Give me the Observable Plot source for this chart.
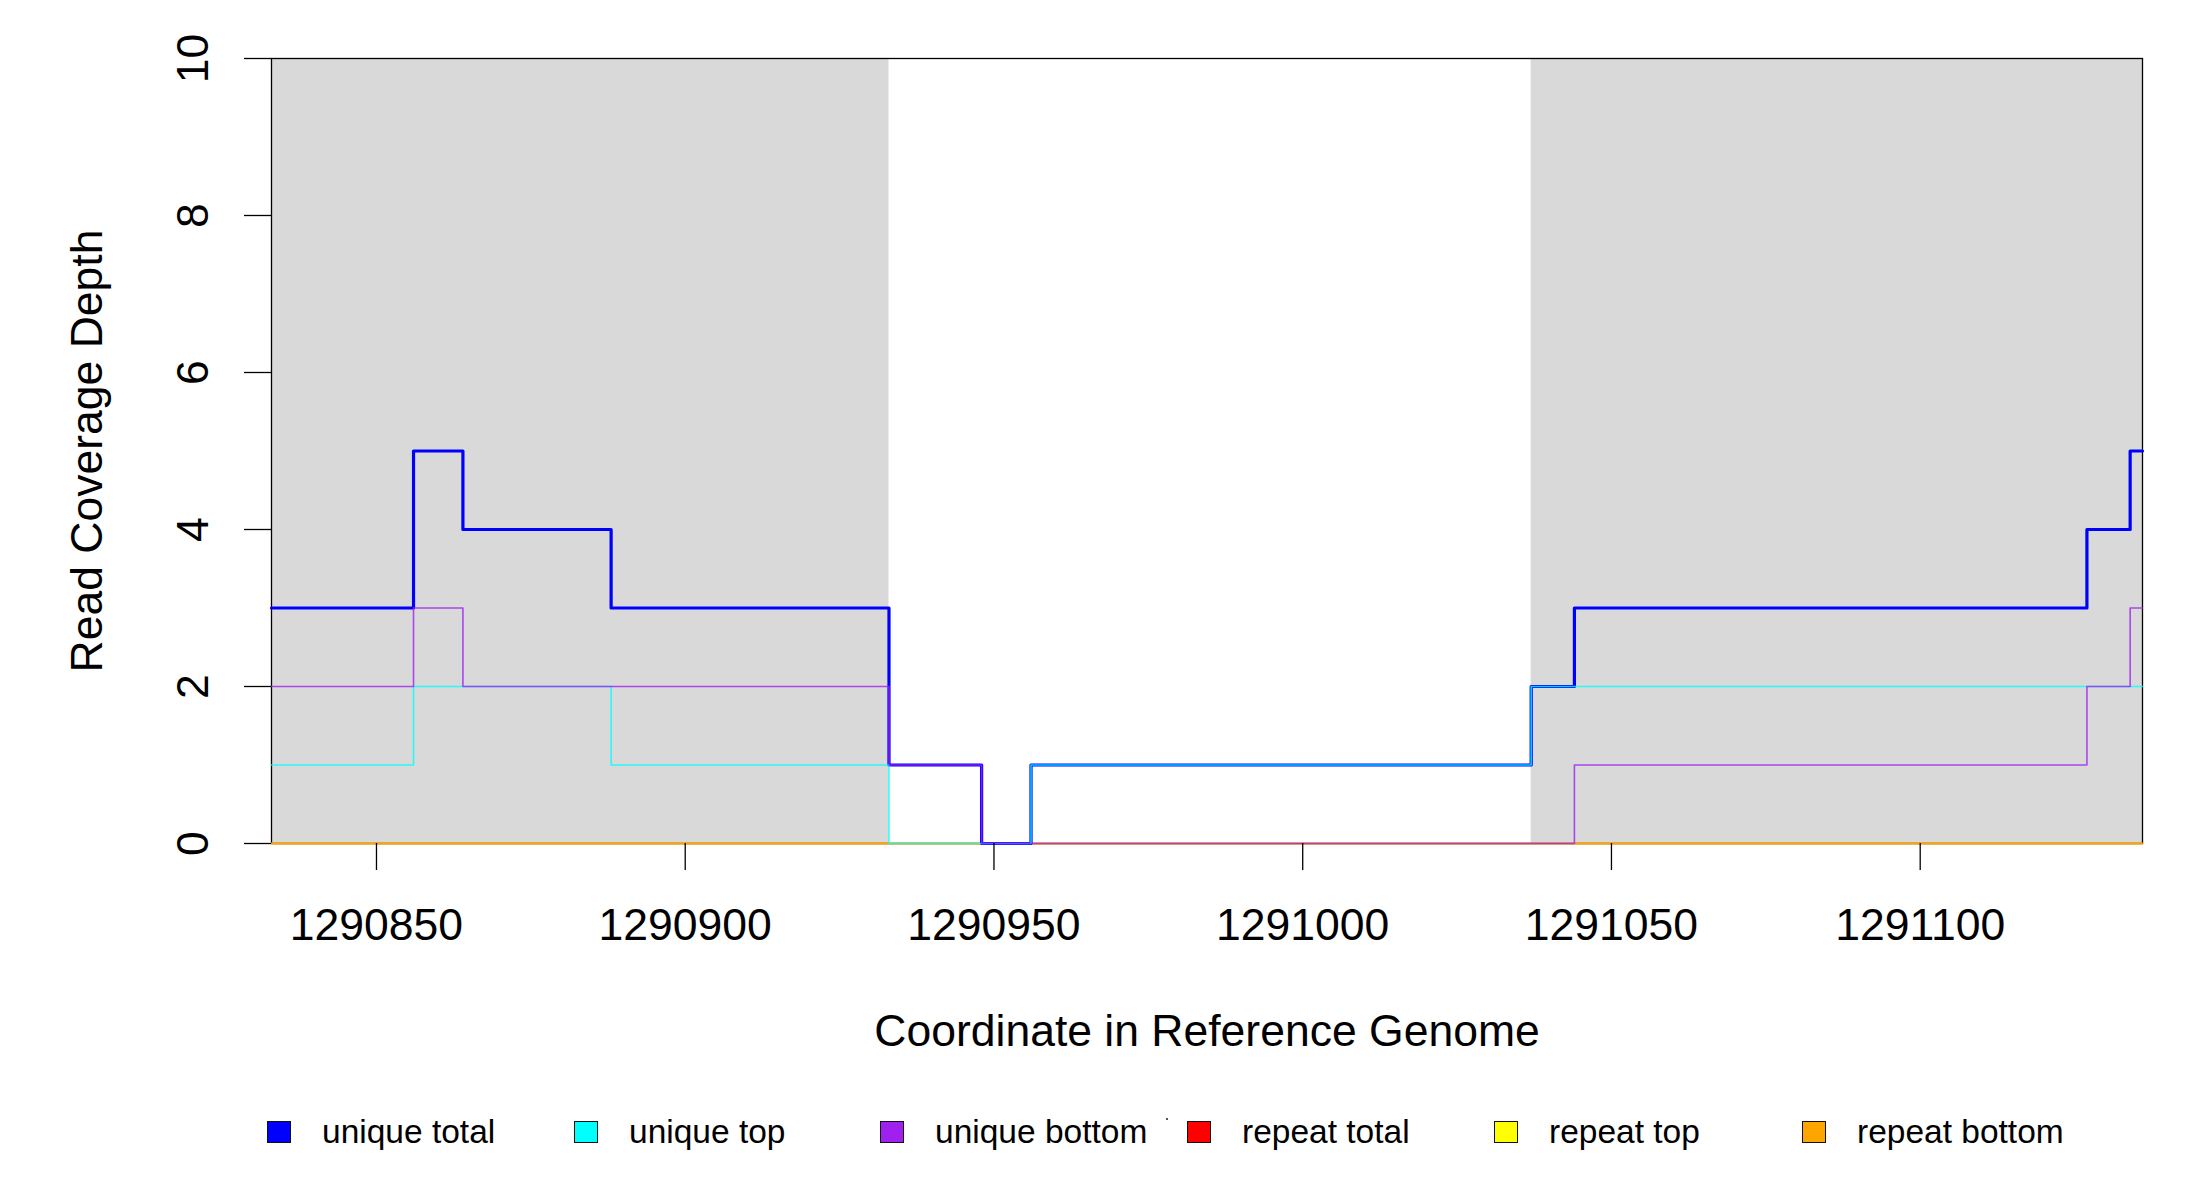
<!DOCTYPE html>
<html>
<head>
<meta charset="utf-8">
<script src="https://cdn.jsdelivr.net/npm/d3@7"></script>
<script src="https://cdn.jsdelivr.net/npm/@observablehq/plot@0.6"></script>
<style>
  html, body { margin: 0; padding: 0; background: white; }
  #wrap { position: relative; width: 2200px; height: 1200px; background: white; font-family: "Liberation Sans", Arial, sans-serif; }
  #legend { position: absolute; left: 0; top: 1110px; width: 2200px; height: 44px; }
  .item { position: absolute; top: 0; height: 44px; display: flex; align-items: center; }
  .box { width: 22px; height: 20px; border: 1.6px solid #111; box-sizing: content-box; }
  .lab { font-size: 33.5px; color: #000; white-space: nowrap; position: absolute; top: 3px; }
  .speck { position: absolute; width: 2px; height: 2px; background: #555; }
</style>
</head>
<body>
<div id="wrap">
  <div id="chart"></div>
  <div id="legend"></div>
</div>
<script>
// ---- data ----
const positions    = [1290833, 1290856, 1290864, 1290888, 1290933, 1290948, 1290956, 1291037, 1291044, 1291127, 1291134, 1291136];
const uniqueTotal  = [3, 5, 4, 3, 1, 0, 1, 2, 3, 4, 5, 5];
const uniqueTop    = [1, 2, 2, 1, 0, 0, 1, 2, 2, 2, 2, 2];
const uniqueBottom = [2, 3, 2, 2, 1, 0, 0, 0, 1, 2, 3, 3];
const repeatTotal  = [0, 0, 0, 0, 0, 0, 0, 0, 0, 0, 0, 0];
const repeatTop    = [0, 0, 0, 0, 0, 0, 0, 0, 0, 0, 0, 0];
const repeatBottom = [0, 0, 0, 0, 0, 0, 0, 0, 0, 0, 0, 0];

const shadeStart = [1290833, 1291037];
const shadeEnd   = [1290933, 1291136];

const xTicks = [1290850, 1290900, 1290950, 1291000, 1291050, 1291100];
const yTicks = [0, 2, 4, 6, 8, 10];

const legendLabels = ["unique total", "unique top", "unique bottom", "repeat total", "repeat top", "repeat bottom"];
const legendColors = ["#0000FF", "#00FFFF", "#A020F0", "#FF0000", "#FFFF00", "#FFA500"];

const xTitle = "Coordinate in Reference Genome";
const yTitle = "Read Coverage Depth";

// ---- build ----
const toRows = (vals) => positions.map((p, i) => ({x: p, y: vals[i]}));
const shades = shadeStart.map((s, i) => ({x1: s, x2: shadeEnd[i]}));
const FS = 44.5;

const lineMark = (vals, color, w, op) =>
  Plot.line(toRows(vals), {x: "x", y: "y", curve: "step-after", stroke: color, strokeWidth: w, strokeOpacity: op});

const chart = Plot.plot({
  width: 2200,
  height: 1100,
  marginLeft: 271,
  marginRight: 58,
  marginTop: 58,
  marginBottom: 257,
  style: {fontFamily: "Liberation Sans, Arial, sans-serif", background: "white", color: "black"},
  x: {domain: [positions[0], positions[positions.length - 1]], label: null},
  y: {domain: [0, 10], label: null},
  marks: [
    Plot.rect(shades, {x1: "x1", x2: "x2", fill: "#D9D9D9"}),
    Plot.frame({stroke: "#000", strokeWidth: 1.3}),
    lineMark(repeatTotal, legendColors[3], 1.6, 1),
    lineMark(repeatTop, legendColors[4], 1.6, 1),
    lineMark(repeatBottom, legendColors[5], 1.6, 1),
    lineMark(uniqueTotal, legendColors[0], 3.2, 1),
    lineMark(uniqueTop, legendColors[1], 1.6, 0.8),
    lineMark(uniqueBottom, legendColors[2], 1.6, 0.8),
    Plot.axisX({ticks: xTicks, tickSize: 27, tickPadding: 38, fontSize: FS, tickFormat: d => String(d), label: null, strokeWidth: 1.3}),
    Plot.axisY({ticks: yTicks, tickSize: 27, tickFormat: () => "", label: null, strokeWidth: 1.3}),
    Plot.text(yTicks, {y: d => d, text: d => String(d), frameAnchor: "left", textAnchor: "middle", dx: -78, rotate: -90, fontSize: FS}),
    Plot.text([yTitle], {text: d => d, frameAnchor: "left", textAnchor: "middle", dx: -184, rotate: -90, fontSize: FS}),
    Plot.text([xTitle], {text: d => d, frameAnchor: "bottom", dy: 202, fontSize: FS})
  ]
});
document.getElementById("chart").appendChild(chart);

// legend
const legend = document.getElementById("legend");
const boxLeft = [267, 574, 880, 1187, 1494, 1802];
legendLabels.forEach((lab, i) => {
  const it = document.createElement("div");
  it.className = "item";
  it.style.left = boxLeft[i] + "px";
  const b = document.createElement("div");
  b.className = "box";
  b.style.background = legendColors[i];
  const t = document.createElement("div");
  t.className = "lab";
  t.textContent = lab;
  t.style.left = "55px";
  it.appendChild(b);
  it.appendChild(t);
  legend.appendChild(it);
});
const sp = document.createElement("div");
sp.className = "speck";
sp.style.left = "1166px";
sp.style.top = "8px";
legend.appendChild(sp);
</script>
</body>
</html>
